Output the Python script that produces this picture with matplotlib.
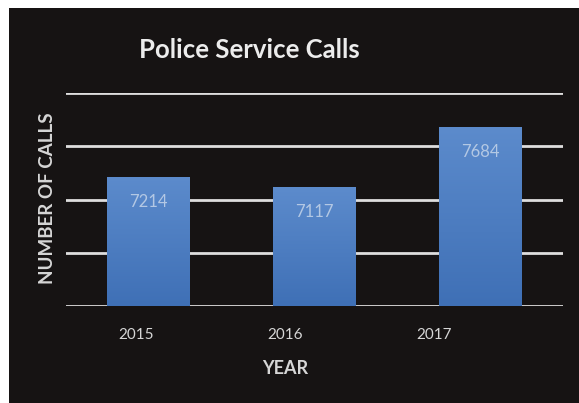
import numpy as np
import matplotlib.pyplot as plt
from matplotlib.patches import Rectangle
from matplotlib.colors import LinearSegmentedColormap

# data
years = ['2015', '2016', '2017']
calls = [7214, 7117, 7684]

bg = '#161313'
txt = '#d6d6d6'
grad = LinearSegmentedColormap.from_list('bar', ['#3f70b6', '#5c8bcc'])

fig = plt.figure(figsize=(5.79, 4.03), dpi=100, facecolor='white')
# black panel, thin white margin on left/top like the scan
fig.patches.append(Rectangle((9 / 579, 0), 1, 1 - 8 / 403, transform=fig.transFigure,
                             facecolor=bg, edgecolor='none', zorder=-10))

ax = fig.add_axes([66 / 579, 97 / 403, 497 / 579, 213 / 403])
ax.set_facecolor(bg)
ax.patch.set_alpha(0)

ax.set_ylim(6000, 8000)
ax.set_xlim(-0.5, 2.5)

x = np.arange(len(years))
bars = ax.bar(x, calls, width=0.5, color='#4d7ec4', zorder=3)
# light vertical gradient on each bar
for b in bars:
    x0, y0 = b.get_x(), 6000
    im = ax.imshow(np.linspace(0, 1, 100).reshape(-1, 1), cmap=grad, origin='lower',
                   aspect='auto', extent=(x0, x0 + b.get_width(), y0, b.get_height()),
                   zorder=3.5)
    im.set_clip_path(b)

for b, v in zip(bars, calls):
    ax.annotate(str(v), (b.get_x() + b.get_width() / 2, v), xytext=(0, -18),
                textcoords='offset points', ha='center', va='center',
                color='#b3c8e4', fontsize=12, family='Lato', zorder=4)

ax.set_xlim(-0.5, 2.5)
ax.set_ylim(6000, 8000)
ax.set_yticks(np.arange(6000, 8001, 500))
ax.yaxis.grid(True, color='#dedede', linewidth=2)
ax.set_axisbelow(True)
ax.tick_params(axis='y', left=False, labelleft=False)
ax.tick_params(axis='x', bottom=False)
for s in ax.spines.values():
    s.set_visible(False)

# tick labels sit a bit left of the bars in the original (skewed scan)
ax.set_xticks(x * 0.9 - 0.08)
ax.set_xticklabels(years, color=txt, fontsize=11, family='Lato')
ax.tick_params(axis='x', pad=12)

fig.text(249 / 579, 1 - 50 / 403, 'Police Service Calls', ha='center', va='center',
         color='#ececec', fontsize=18.5, fontweight='bold', family='Lato')
fig.text(48 / 579, 1 - 198 / 403, 'NUMBER OF CALLS', rotation=90, ha='center', va='center',
         color=txt, fontsize=13.5, fontweight='bold', family='Lato')
fig.text(285 / 579, 1 - 369 / 403, 'YEAR', ha='center', va='center',
         color=txt, fontsize=13, fontweight='bold', family='Lato')

fig.savefig('out.png', dpi=100, facecolor=fig.get_facecolor())
